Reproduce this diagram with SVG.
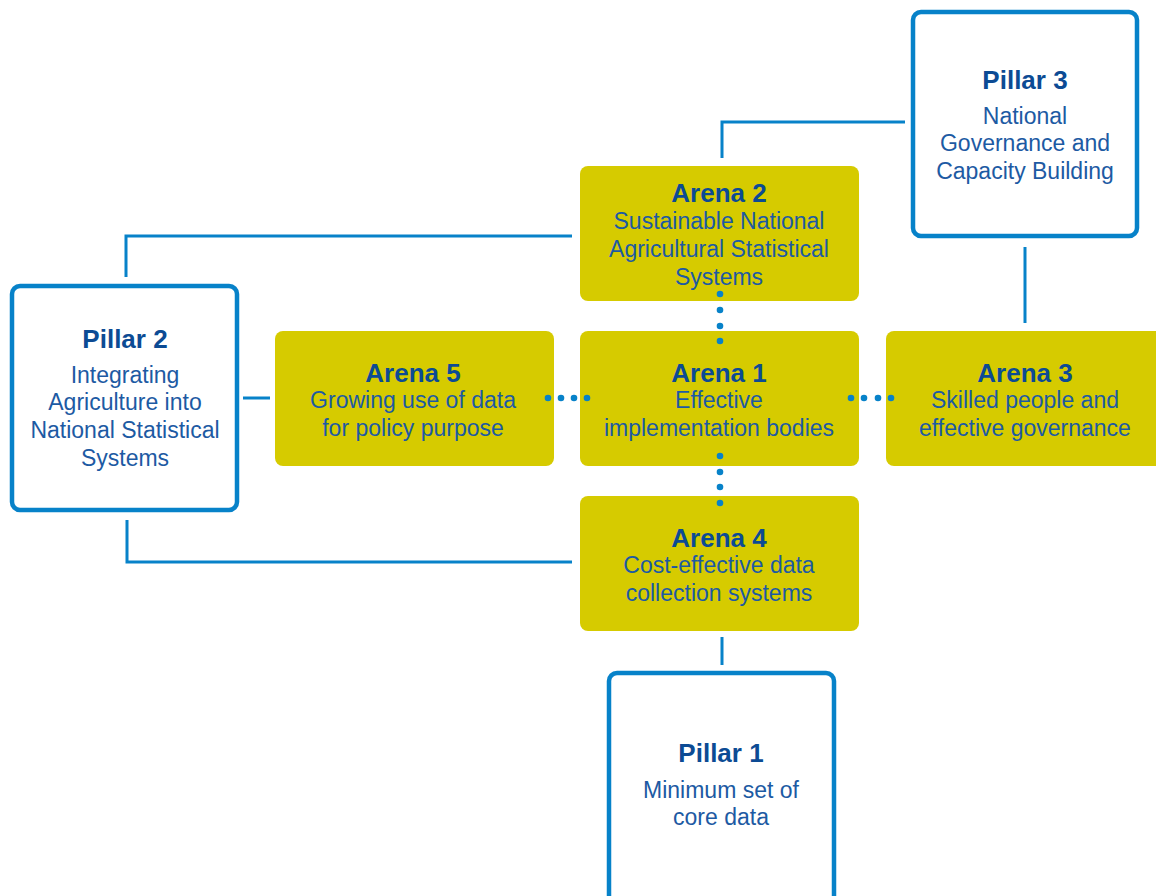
<svg xmlns="http://www.w3.org/2000/svg" width="1156" height="896" viewBox="0 0 1156 896">
  <style>
    .pillar { fill: #ffffff; stroke: #0782c9; stroke-width: 4.5; }
    .arena { fill: #d6cb00; }
    .link { fill: none; stroke: #0782c9; stroke-width: 3; }
    .dot { fill: #0782c9; }
    text { font-family: "Liberation Sans", Arial, sans-serif; text-anchor: middle; }
    .title { font-size: 26px; font-weight: bold; fill: #0c4b94; }
    .body { font-size: 23px; fill: #1d5aa3; }
  </style>
  <rect width="1156" height="896" fill="#ffffff"/>

  <g id="pillar3">
    <rect class="pillar" x="913" y="12" width="224" height="224" rx="8"/>
    <text class="title" x="1025" y="89">Pillar 3</text>
    <text class="body" x="1025" y="124">National</text>
    <text class="body" x="1025" y="151">Governance and</text>
    <text class="body" x="1025" y="179">Capacity Building</text>
  </g>

  <g id="pillar2">
    <rect class="pillar" x="12" y="286" width="225" height="224" rx="8"/>
    <text class="title" x="125" y="348">Pillar 2</text>
    <text class="body" x="125" y="383">Integrating</text>
    <text class="body" x="125" y="410">Agriculture into</text>
    <text class="body" x="125" y="438">National Statistical</text>
    <text class="body" x="125" y="466">Systems</text>
  </g>

  <g id="pillar1">
    <rect class="pillar" x="609" y="673" width="225" height="240" rx="8"/>
    <text class="title" x="721" y="762">Pillar 1</text>
    <text class="body" x="721" y="798">Minimum set of</text>
    <text class="body" x="721" y="825">core data</text>
  </g>

  <g id="arena2">
    <rect class="arena" x="580" y="166" width="279" height="135" rx="8"/>
    <text class="title" x="719" y="202">Arena 2</text>
    <text class="body" x="719" y="229">Sustainable National</text>
    <text class="body" x="719" y="257">Agricultural Statistical</text>
    <text class="body" x="719" y="285">Systems</text>
  </g>

  <g id="arena1">
    <rect class="arena" x="580" y="331" width="279" height="135" rx="8"/>
    <text class="title" x="719" y="382">Arena 1</text>
    <text class="body" x="719" y="408">Effective</text>
    <text class="body" x="719" y="436">implementation bodies</text>
  </g>

  <g id="arena5">
    <rect class="arena" x="275" y="331" width="279" height="135" rx="8"/>
    <text class="title" x="413" y="382">Arena 5</text>
    <text class="body" x="413" y="408">Growing use of data</text>
    <text class="body" x="413" y="436">for policy purpose</text>
  </g>

  <g id="arena3">
    <rect class="arena" x="886" y="331" width="290" height="135" rx="8"/>
    <text class="title" x="1025" y="382">Arena 3</text>
    <text class="body" x="1025" y="408">Skilled people and</text>
    <text class="body" x="1025" y="436">effective governance</text>
  </g>

  <g id="arena4">
    <rect class="arena" x="580" y="496" width="279" height="135" rx="8"/>
    <text class="title" x="719" y="547">Arena 4</text>
    <text class="body" x="719" y="573">Cost-effective data</text>
    <text class="body" x="719" y="601">collection systems</text>
  </g>

  <!-- connectors, drawn last so the dotted links sit on top of the arenas -->
  <g id="connectors">
    <polyline class="link" points="905,122 722,122 722,158"/>
    <polyline class="link" points="126,277 126,236 572,236"/>
    <line class="link" x1="243" y1="398" x2="270" y2="398"/>
    <polyline class="link" points="127,520 127,562 572,562"/>
    <line class="link" x1="722" y1="637" x2="722" y2="665"/>
    <line class="link" x1="1025" y1="247" x2="1025" y2="323"/>
    <g class="dot">
      <circle cx="720" cy="294" r="3.3"/>
      <circle cx="720" cy="310" r="3.3"/>
      <circle cx="720" cy="326" r="3.3"/>
      <circle cx="720" cy="341" r="3.3"/>
      <circle cx="720" cy="456" r="3.3"/>
      <circle cx="720" cy="472" r="3.3"/>
      <circle cx="720" cy="487" r="3.3"/>
      <circle cx="720" cy="503" r="3.3"/>
      <circle cx="548" cy="398" r="3.3"/>
      <circle cx="561" cy="398" r="3.3"/>
      <circle cx="574" cy="398" r="3.3"/>
      <circle cx="587" cy="398" r="3.3"/>
      <circle cx="851" cy="398" r="3.3"/>
      <circle cx="864" cy="398" r="3.3"/>
      <circle cx="878" cy="398" r="3.3"/>
      <circle cx="891" cy="398" r="3.3"/>
    </g>
  </g>
</svg>
